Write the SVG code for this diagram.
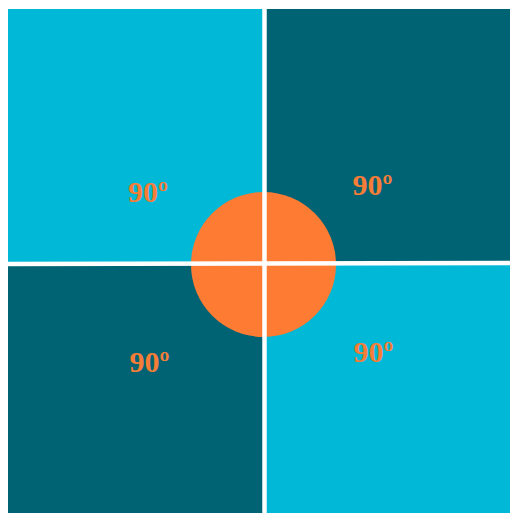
<svg xmlns="http://www.w3.org/2000/svg" width="510" height="513" viewBox="0 0 510 513">
  <style>
    .light { fill: #01B8D6; }
    .dark { fill: #006374; }
    .sep { stroke: #FFFFFF; stroke-width: 4.5; fill: none; }
    .lbl { font-family: "Liberation Serif", "Times New Roman", serif; font-weight: bold; font-size: 30px; fill: #F67D38; text-anchor: middle; }
  </style>
  <rect x="0" y="0" width="510" height="513" fill="#FFFFFF"/>
  <g id="q-top-left"><rect class="light" x="8" y="9" width="256" height="255"/></g>
  <g id="q-top-right"><rect class="dark" x="264" y="9" width="246" height="255"/></g>
  <g id="q-bottom-left"><rect class="dark" x="8" y="263" width="256" height="250"/></g>
  <g id="q-bottom-right"><rect class="light" x="264" y="263" width="246" height="250"/></g>
  <g id="center-circle"><circle cx="263.5" cy="264.5" r="72.5" fill="#FE7B33"/></g>
  <g id="separators">
    <line class="sep" x1="0" y1="264" x2="510" y2="263"/>
    <line class="sep" x1="264.5" y1="0" x2="264.5" y2="513"/>
  </g>
  <g id="labels">
    <text class="lbl" x="148" y="202">90º</text>
    <text class="lbl" x="372.5" y="195">90º</text>
    <text class="lbl" x="149.5" y="372">90º</text>
    <text class="lbl" x="373.5" y="362">90º</text>
  </g>
</svg>
